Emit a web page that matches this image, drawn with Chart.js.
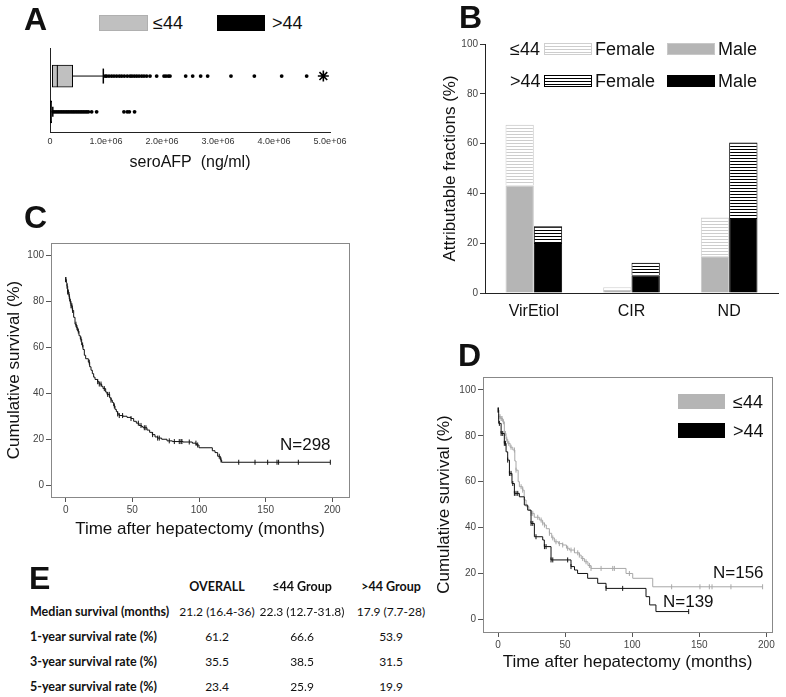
<!DOCTYPE html>
<html>
<head>
<meta charset="utf-8">
<script src="https://cdn.jsdelivr.net/npm/chart.js@4.4.1/dist/chart.umd.min.js"></script>
<style>
  body { margin: 0; background: #fff; width: 786px; height: 697px; position: relative; overflow: hidden;
         font-family: 'Liberation Sans', Arial, sans-serif; color: #111; }
  canvas { position: absolute; }
  .tag { position: absolute; font-weight: bold; font-size: 32px; line-height: 32px; }
  .txt { position: absolute; font-size: 18px; line-height: 18px; transform: translateY(-50%); white-space: nowrap; }
  .box { position: absolute; box-sizing: border-box; }
  .cell { position: absolute; font-family: Lato, 'Open Sans', sans-serif; font-size: 12px; line-height: 14px;
          transform: translateY(-50%); white-space: nowrap; color: #111; }
  .cell.c { transform: translate(-50%, -50%); }
  .cell.b { font-weight: bold; font-size: 12.5px; }
</style>
</head>
<body>
<canvas id="chartA" width="360" height="140" style="left:0;top:36px"></canvas>
<canvas id="chartB" width="356" height="325" style="left:430px;top:0"></canvas>
<canvas id="chartC" width="360" height="314" style="left:0;top:230px"></canvas>
<canvas id="chartD" width="356" height="312" style="left:430px;top:365px"></canvas>

<div class="tag" style="left:24px;top:3px">A</div>
<div class="tag" style="left:459px;top:1px">B</div>
<div class="tag" style="left:24px;top:201px">C</div>
<div class="tag" style="left:458px;top:339px">D</div>
<div class="tag" style="left:29px;top:562px">E</div>

<!-- legend A -->
<div class="box" style="left:99px;top:15px;width:49px;height:16px;background:#c0c0c0;border:1px solid #b0b0b0"></div>
<div class="txt" style="left:153px;top:23px">≤44</div>
<div class="box" style="left:217px;top:15px;width:48px;height:16px;background:#000"></div>
<div class="txt" style="left:272px;top:23px">&gt;44</div>

<!-- legend B -->
<div class="txt" style="left:510px;top:49px">≤44</div>
<div class="box" style="left:544px;top:43px;width:48px;height:12px;border:1px solid #cfcfcf;background:repeating-linear-gradient(#fff 0 2px,#cdcdcd 2px 3px)"></div>
<div class="txt" style="left:595px;top:49px">Female</div>
<div class="box" style="left:667px;top:43px;width:48px;height:12px;background:#b5b5b5;border:1px solid #c8c8c8"></div>
<div class="txt" style="left:718px;top:49px">Male</div>
<div class="txt" style="left:510px;top:81px">&gt;44</div>
<div class="box" style="left:544px;top:75px;width:48px;height:12px;border:1px solid #000;background:repeating-linear-gradient(#fff 0 2px,#000 2px 3px)"></div>
<div class="txt" style="left:595px;top:81px">Female</div>
<div class="box" style="left:667px;top:75px;width:48px;height:12px;background:#000"></div>
<div class="txt" style="left:718px;top:81px">Male</div>

<!-- annotations C / D -->
<div class="txt" style="left:280px;top:445px;font-size:17px">N=298</div>
<div class="box" style="left:678px;top:394px;width:47px;height:15px;background:#b5b5b5"></div>
<div class="txt" style="left:733px;top:402px">≤44</div>
<div class="box" style="left:678px;top:423px;width:47px;height:15px;background:#000"></div>
<div class="txt" style="left:733px;top:431px">&gt;44</div>
<div class="txt" style="left:713px;top:573px;font-size:17px">N=156</div>
<div class="txt" style="left:663px;top:602px;font-size:17px">N=139</div>

<div id="tableE"></div>

<script>
// ---- panel A: seroAFP (ng/ml) box plots ----
const afpTicks = [0, 1e6, 2e6, 3e6, 4e6, 5e6];
const afpYoungBox = { q1: 0.041e6, median: 0.131e6, q3: 0.405e6, whiskerHi: 0.952e6 };
const afpOldBox = { q1: 0.003e6, median: 0.01e6, q3: 0.03e6, whiskerHi: 0.05e6 };
const afpYoungOutliers = [0.982e6, 1.01e6, 1.054e6, 1.10e6, 1.143e6, 1.19e6, 1.238e6, 1.28e6, 1.327e6, 1.38e6,
  1.43e6, 1.464e6, 1.506e6, 1.548e6, 1.59e6, 1.637e6, 1.679e6, 1.726e6, 1.786e6, 1.905e6, 2.036e6, 2.071e6,
  2.113e6, 2.143e6, 2.423e6, 2.548e6, 2.69e6, 2.815e6, 3.232e6, 3.649e6, 4.137e6, 4.583e6];
const afpYoungExtreme = [4.881e6];
const afpOldOutliers = [0.06e6, 0.089e6, 0.119e6, 0.149e6, 0.179e6, 0.208e6, 0.238e6, 0.268e6, 0.298e6, 0.327e6,
  0.357e6, 0.387e6, 0.417e6, 0.446e6, 0.476e6, 0.506e6, 0.536e6, 0.565e6, 0.595e6, 0.625e6, 0.655e6, 0.685e6,
  0.744e6, 0.833e6, 1.32e6, 1.38e6, 1.416e6, 1.51e6];

// ---- panel B: attributable fractions (%) ----
const etiologyLabels = ['VirEtiol', 'CIR', 'ND'];
const youngMale = [43.2, 1.2, 14.8];
const youngFemale = [24.4, 1.1, 15.5];
const oldMale = [20.1, 7.1, 30.1];
const oldFemale = [6.7, 5.0, 30.3];
const fractionTicks = [0, 20, 40, 60, 80, 100];

// ---- panel C: overall survival, N=298 ----
const allTimes = [0, 0.5, 1, 1.5, 2.5, 3, 4, 5, 6, 7, 8, 9, 10, 11, 12, 13, 14, 15, 17, 18, 19, 20, 21, 22, 24, 25,
  27, 28, 30, 31, 33, 34, 35, 36, 37, 38, 39, 40, 43, 46, 49, 51, 53, 55, 57, 58, 61, 63, 65, 67, 69, 72, 76, 80,
  88, 95, 98, 100, 110, 112, 114, 116, 117, 198.5];
const allSurv = [89.4, 88, 86.5, 84, 82, 80, 78, 76, 73, 70, 68.5, 67, 65, 63.5, 61, 59, 56.5, 55, 53.5, 51.5, 50,
  48.5, 47, 46, 45, 44, 43, 42, 40.5, 39.5, 38, 37, 36, 34.5, 33, 32, 31, 30.3, 30, 29.5, 29, 27.8, 27, 26, 25.5,
  25, 24, 23, 22, 21, 20.5, 20, 19.3, 19, 18.8, 18.3, 17.5, 16.3, 15, 14.2, 12.6, 11, 10, 10];
const allCensored = [0, 0.2, 1, 1.5, 2, 2.7, 3.5, 4, 4.7, 5.2, 7.7, 8.5, 9.5, 11.5, 12.7, 17.7, 24, 25.2, 26.5, 29,
  31.5, 32.7, 34, 36.5, 39, 40.2, 42.7, 49, 54.5, 56.5, 59, 60.2, 65.2, 69, 70.2, 77.7, 81.5, 85.2, 86.5, 87.2,
  92.7, 97.7, 99, 115.2, 116.5, 129.8, 142, 151.5, 158.5, 159.7, 174.5, 198.5];

// ---- panel D: survival by age group ----
const youngTimes = [0, 2, 3.5, 4.7, 6, 7.2, 9, 11, 12.5, 13.4, 15, 15.9, 18.4, 19.5, 20.9, 23, 24.6, 27, 30.8, 33,
  34.5, 36, 38.3, 40, 42, 45, 48.2, 51, 53.2, 57, 60.6, 62, 64.4, 67, 69.3, 95.4, 100.4, 115.3, 197.2];
const youngSurv = [88.3, 87.5, 86.1, 81, 78.5, 76.7, 75, 73.8, 69, 65, 60, 57.8, 56.3, 52, 49.1, 47.5, 46.2, 44.5,
  43.3, 42, 41.1, 39.5, 37.5, 35.5, 33.8, 33, 32.4, 31, 30.2, 29, 28, 26.5, 25.1, 23.5, 22.2, 20, 17.9, 14.2, 14.2];
const youngCensored = [0.5, 1.5, 2.3, 3, 4, 5.5, 6.5, 8, 9.7, 12.2, 13.4, 17.2, 18.4, 24.6, 25.9, 29.6, 32.1, 33.3,
  34.6, 38.3, 40.8, 43.2, 45.7, 48.2, 51.9, 54.4, 56.9, 59.4, 60.6, 63.1, 65.6, 68.1, 69.3, 76.8, 85.5, 86.7, 97.9,
  129.4, 150.5, 157.5, 159.5, 173.6, 197.2];
const oldTimes = [0, 0.5, 2.3, 4.7, 6, 7.2, 8.5, 10.4, 12.2, 15.9, 19.6, 22.1, 24.6, 27.1, 33.3, 34.5, 39.5, 54.4,
  57, 59.3, 66.8, 74.3, 80.5, 110.3, 113, 117.7, 142.1];
const oldSurv = [91.2, 85.4, 81, 76.7, 73, 69.4, 63.6, 59.2, 54.9, 53.4, 49.8, 47.6, 41.8, 36, 34.6, 31.7, 25.9, 23,
  21.5, 20, 17.9, 15.7, 13.5, 9.9, 6.3, 3.4, 3.4];
const oldCensored = [0, 0.3, 1, 2.3, 3.5, 4.7, 5.5, 7.2, 8.5, 9.7, 11, 12.2, 13.4, 14.7, 24.6, 25.9, 28.3, 34.6,
  35.8, 39.5, 40.8, 51.9, 54.4, 80.5, 92.9, 142.1];
const monthTicks = [0, 50, 100, 150, 200];
const survivalTicks = [0, 20, 40, 60, 80, 100];

// ---- panel E table ----
const tableColumns = ['OVERALL', '≤44 Group', '>44 Group'];
const tableRows = ['Median survival (months)', '1-year survival rate (%)', '3-year survival rate (%)', '5-year survival rate (%)'];
const tableOverall = ['21.2 (16.4-36)', '61.2', '35.5', '23.4'];
const tableYoung = ['22.3 (12.7-31.8)', '66.6', '38.5', '25.9'];
const tableOld = ['17.9 (7.7-28)', '53.9', '31.5', '19.9'];

Chart.defaults.font.family = "'Liberation Sans', Arial, sans-serif";
Chart.defaults.color = '#444';
Chart.defaults.animation = false;
Chart.defaults.plugins.legend.display = false;
Chart.defaults.plugins.tooltip.enabled = false;

const fixWidth = (w) => (scale) => { scale.width = w; };
const fixHeight = (h) => (scale) => { scale.height = h; };
const setTicks = (values) => (scale) => { scale.ticks = values.map((v) => ({ value: v })); };

function survAt(times, surv, t) {
  let s = surv[0];
  for (let i = 0; i < times.length; i++) {
    if (times[i] <= t) s = surv[i];
  }
  return s;
}

// panel A
const rowPoints = (values, row) => values.map((v) => ({ x: v, y: row }));
new Chart(document.getElementById('chartA'), {
  type: 'scatter',
  data: {
    datasets: [
      {
        type: 'scatter', data: rowPoints([afpYoungBox.median], 1).concat(rowPoints([afpOldBox.median], 2)),
        pointStyle: 'line', rotation: 90, pointRadius: 11, borderColor: '#000', borderWidth: 1,
      },
      {
        type: 'bar', indexAxis: 'y', barThickness: 22, borderSkipped: false,
        data: [{ y: 1, x: [afpYoungBox.q1, afpYoungBox.q3] }, { y: 2, x: [afpOldBox.q1, afpOldBox.q3] }],
        backgroundColor: ['#c0c0c0', '#000'], borderColor: '#000', borderWidth: 1,
      },
      {
        type: 'line', data: rowPoints([afpYoungBox.q3, afpYoungBox.whiskerHi], 1),
        borderColor: '#000', borderWidth: 1, pointRadius: 0,
      },
      {
        type: 'line', data: rowPoints([afpOldBox.q3, afpOldBox.whiskerHi], 2),
        borderColor: '#000', borderWidth: 1, pointRadius: 0,
      },
      {
        type: 'scatter', data: rowPoints([afpYoungBox.whiskerHi], 1).concat(rowPoints([afpOldBox.whiskerHi], 2)),
        pointStyle: 'line', rotation: 90, pointRadius: [7.5, 5], borderColor: '#000', borderWidth: 1.5,
      },
      {
        type: 'scatter', data: rowPoints(afpYoungOutliers, 1).concat(rowPoints(afpOldOutliers, 2)),
        pointRadius: 1.9, backgroundColor: '#000', borderWidth: 0,
      },
      {
        type: 'scatter', data: rowPoints(afpYoungExtreme, 1),
        pointStyle: 'star', pointRadius: 5.5, borderColor: '#000', borderWidth: 1.6,
      },
    ],
  },
  options: {
    responsive: false,
    layout: { padding: { top: 10, right: 30, left: 0, bottom: 0 } },
    scales: {
      x: {
        type: 'linear', min: 0, max: 5e6,
        afterBuildTicks: setTicks(afpTicks), afterFit: fixHeight(44),
        grid: { display: false, drawTicks: false },
        border: { color: '#222' },
        ticks: {
          padding: 4, font: { size: 9 }, color: '#333',
          callback: (v) => (v === 0 ? '0' : v.toExponential(1).replace('e+', 'e+0')),
        },
        title: { display: true, text: 'seroAFP  (ng/ml)', font: { size: 16 }, color: '#111', padding: { top: 0, bottom: 4 } },
      },
      y: {
        type: 'linear', reverse: true, min: 0.45, max: 2.33,
        afterFit: fixWidth(50),
        grid: { display: false, drawTicks: false }, ticks: { display: false },
        border: { color: '#222' },
      },
    },
  },
});

// panel B
function stripes(color) {
  const c = document.createElement('canvas');
  c.width = 4; c.height = 3;
  const g = c.getContext('2d');
  g.fillStyle = '#fff'; g.fillRect(0, 0, 4, 3);
  g.fillStyle = color; g.fillRect(0, 2, 4, 1);
  return g.createPattern(c, 'repeat');
}
new Chart(document.getElementById('chartB'), {
  type: 'bar',
  data: {
    labels: etiologyLabels,
    datasets: [
      { label: '≤44 Male', data: youngMale, stack: 'young', backgroundColor: '#b5b5b5', borderColor: '#c8c8c8', borderWidth: 1 },
      { label: '≤44 Female', data: youngFemale, stack: 'young', backgroundColor: stripes('#cdcdcd'), borderColor: '#cfcfcf', borderWidth: 1 },
      { label: '>44 Male', data: oldMale, stack: 'old', backgroundColor: '#000', borderColor: '#000', borderWidth: 1 },
      { label: '>44 Female', data: oldFemale, stack: 'old', backgroundColor: stripes('#000'), borderColor: '#000', borderWidth: 1 },
    ],
  },
  options: {
    responsive: false,
    categoryPercentage: 0.58,
    barPercentage: 1,
    layout: { padding: { top: 44, right: 8, left: 6, bottom: 0 } },
    scales: {
      x: {
        afterFit: fixHeight(32),
        grid: { display: false, drawTicks: false },
        border: { color: '#222' },
        ticks: { padding: 9, font: { size: 16 }, color: '#111' },
      },
      y: {
        stacked: true, min: 0, max: 100,
        afterBuildTicks: setTicks(fractionTicks), afterFit: fixWidth(49),
        grid: { drawOnChartArea: false, tickLength: 5, color: '#333' },
        border: { color: '#222' },
        ticks: { padding: 2, font: { size: 10 }, color: '#444' },
        title: { display: true, text: 'Attributable fractions (%)', font: { size: 17 }, color: '#111' },
      },
    },
  },
});

// panels C and D: Kaplan-Meier curves
const kmLine = (times, surv, color) => ({
  type: 'line', data: times.map((t, i) => ({ x: t, y: surv[i] })),
  stepped: true, borderColor: color, borderWidth: 1, pointRadius: 0, fill: false,
});
const kmCensor = (censored, times, surv, color) => ({
  type: 'scatter', data: censored.map((t) => ({ x: t, y: survAt(times, surv, t) })),
  pointStyle: 'line', rotation: 90, pointRadius: 2.5, borderColor: color, borderWidth: 1,
});
const frameColor = '#888';
function survivalOptions(xMin, xMax, yMin, yMax, yWidth, xHeight, padding) {
  const edge = { display: true, grid: { display: false, drawTicks: false }, ticks: { display: false }, border: { color: frameColor } };
  return {
    responsive: false,
    layout: { padding },
    scales: {
      x: {
        type: 'linear', min: xMin, max: xMax,
        afterBuildTicks: setTicks(monthTicks), afterFit: fixHeight(xHeight),
        grid: { drawOnChartArea: false, tickLength: 5, color: '#555' },
        border: { color: frameColor },
        ticks: { padding: 2, font: { size: 10 }, color: '#444' },
        title: { display: true, text: 'Time after hepatectomy (months)', font: { size: 17 }, color: '#111' },
      },
      y: {
        type: 'linear', min: yMin, max: yMax,
        afterBuildTicks: setTicks(survivalTicks), afterFit: fixWidth(yWidth),
        grid: { drawOnChartArea: false, tickLength: 5, color: '#555' },
        border: { color: frameColor },
        ticks: { padding: 2, font: { size: 10 }, color: '#444' },
        title: { display: true, text: 'Cumulative survival (%)', font: { size: 17 }, color: '#111' },
      },
      xTop: { ...edge, type: 'linear', position: 'top', min: xMin, max: xMax, afterFit: fixHeight(0) },
      yRight: { ...edge, type: 'linear', position: 'right', min: yMin, max: yMax, afterFit: fixWidth(0) },
    },
  };
}

new Chart(document.getElementById('chartC'), {
  type: 'line',
  data: {
    datasets: [
      kmLine(allTimes, allSurv, '#111'),
      kmCensor(allCensored, allTimes, allSurv, '#111'),
    ],
  },
  options: survivalOptions(-11, 212.5, -5.1, 105.3, 51, 47, { top: 13, right: 11, left: 0, bottom: 0 }),
});

new Chart(document.getElementById('chartD'), {
  type: 'line',
  data: {
    datasets: [
      kmLine(oldTimes, oldSurv, '#111'),
      kmCensor(oldCensored, oldTimes, oldSurv, '#111'),
      kmLine(youngTimes, youngSurv, '#a8a8a8'),
      kmCensor(youngCensored, youngTimes, youngSurv, '#a8a8a8'),
    ],
  },
  options: survivalOptions(-11.2, 204.2, -5.5, 105.6, 53, 45, { top: 12, right: 14, left: 0, bottom: 0 }),
});

// panel E: summary table as text
const tableEl = document.getElementById('tableE');
const colCenters = [217, 302, 391];
const rowCenters = [612, 637, 662, 687];
function addCell(text, x, y, cls) {
  const el = document.createElement('div');
  el.className = 'cell ' + cls;
  el.style.left = x + 'px';
  el.style.top = y + 'px';
  el.textContent = text;
  tableEl.appendChild(el);
}
tableColumns.forEach((t, i) => addCell(t, colCenters[i], 587, 'c b'));
tableRows.forEach((t, i) => addCell(t, 30, rowCenters[i], 'b'));
[tableOverall, tableYoung, tableOld].forEach((col, j) => {
  col.forEach((t, i) => addCell(t, colCenters[j], rowCenters[i], 'c'));
});
</script>
</body>
</html>
